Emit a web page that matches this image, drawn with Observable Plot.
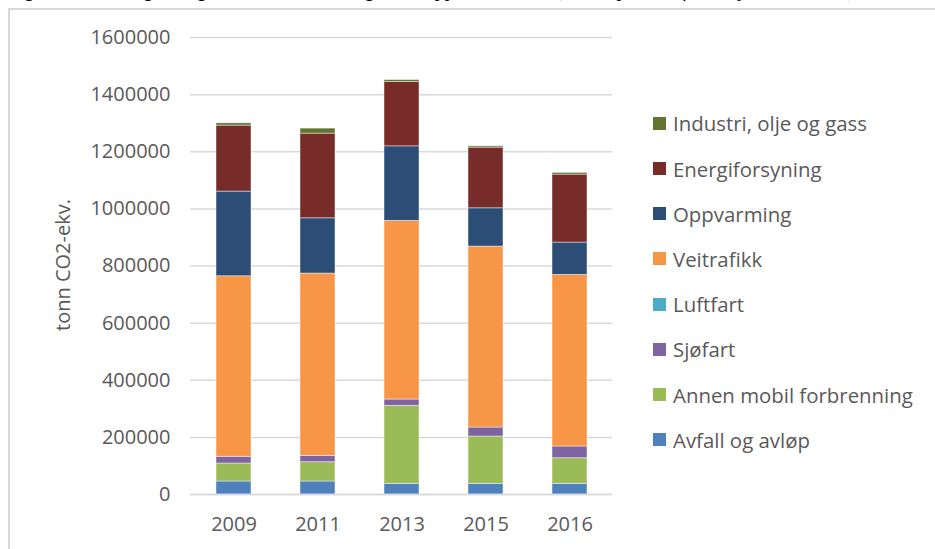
<!DOCTYPE html>
<html>
<head>
<meta charset="utf-8">
<script src="https://cdn.jsdelivr.net/npm/d3@7"></script>
<script src="https://cdn.jsdelivr.net/npm/@observablehq/plot@0.6"></script>
<style>
  html, body { margin: 0; padding: 0; background: #fff; }
  body { width: 935px; height: 549px; position: relative; overflow: hidden; font-family: "Open Sans", Lato, sans-serif; }
  #caption { position: absolute; left: 8px; top: -21px; font: italic 20px "Liberation Serif", serif; line-height: 20px; white-space: nowrap; color: #000; }
  #frame { position: absolute; left: 8px; top: 8px; width: 1000px; height: 600px; border-left: 2px solid #d9d9d9; border-top: 2px solid #d9d9d9; }
  #chart { position: absolute; left: 0; top: 0; }
  #ytitle { position: absolute; left: 62px; top: 265px; transform: translate(-50%, -50%) rotate(-90deg); font-size: 20px; color: #595959; white-space: nowrap; }
  #legend { position: absolute; left: 653px; top: 0; }
  .item { position: absolute; left: 0; display: flex; align-items: center; height: 28px; white-space: nowrap; font-size: 20.4px; color: #595959; }
  .sw { width: 13px; height: 13px; margin-right: 7px; flex: none; }
</style>
</head>
<body>
<div id="caption">Figur 4: Utvikling i Bergen kommunes klimagassutslipp 2009–2016 (basert på data fra Miljødirektoratet)</div>
<div id="frame"></div>
<div id="chart"></div>
<div id="ytitle">tonn CO2-ekv.</div>
<div id="legend"></div>
<script>
const years = ["2009", "2011", "2013", "2015", "2016"];
// stacking order, bottom to top
const sectors = ["Avfall og avløp", "Annen mobil forbrenning", "Sjøfart", "Luftfart", "Veitrafikk", "Oppvarming", "Energiforsyning", "Industri, olje og gass"];
const colors  = ["#4f81bd", "#9bbb59", "#8064a2", "#4bacc6", "#f79646", "#2c4d75", "#772c2a", "#5f7530"];

const avfall     = [45500, 45500, 37300, 37300, 37300];
const annenMobil = [63000, 67500, 273000, 165700, 89700];
const sjofart    = [23500, 22300, 22200, 31500, 41000];
const luftfart   = [0, 0, 0, 0, 0];
const veitrafikk = [632000, 638200, 625500, 633500, 601000];
const oppvarming = [296500, 193500, 261000, 134000, 113000];
const energi     = [231000, 296500, 225500, 212500, 238000];
const industri   = [8000, 17500, 6500, 4500, 6000];

const yTicks = [0, 200000, 400000, 600000, 800000, 1000000, 1200000, 1400000, 1600000];

const series = [avfall, annenMobil, sjofart, luftfart, veitrafikk, oppvarming, energi, industri];
const data = [];
years.forEach((yr, i) => {
  sectors.forEach((s, j) => data.push({year: yr, sector: s, value: series[j][i]}));
});

const grid = "#d9d9d9";
const txt = "#595959";

const chart = Plot.plot({
  width: 935,
  height: 549,
  marginLeft: 190,
  marginRight: 323,
  marginTop: 37,
  marginBottom: 55,
  style: { fontFamily: "'Open Sans', Lato, sans-serif", fontSize: "20px", color: txt, background: "transparent" },
  x: { domain: years, paddingInner: 0.585, paddingOuter: 0.2925, label: null },
  y: { domain: [0, 1600000], label: null },
  color: { domain: sectors, range: colors },
  marks: [
    Plot.gridY(yTicks, { stroke: grid, strokeOpacity: 1, strokeWidth: 1.5 }),
    Plot.barY(data, { x: "year", y: "value", fill: "sector", stroke: "#fff", strokeWidth: 0.8, strokeOpacity: 0.55 }),
    Plot.ruleY([0], { stroke: grid, strokeWidth: 1.5 }),
    Plot.axisY(yTicks, { tickSize: 0, tickPadding: 20, tickFormat: d => String(d), fill: txt, fontSize: 20, label: null }),
    Plot.axisX({ tickSize: 0, tickPadding: 22, fill: txt, fontSize: 20, label: null })
  ]
});
document.getElementById("chart").appendChild(chart);

// legend, top to bottom is the reverse of the stack
const legend = document.getElementById("legend");
const legendOrder = sectors.slice().reverse();
const legendColors = colors.slice().reverse();
legendOrder.forEach((s, k) => {
  const el = document.createElement("div");
  el.className = "item";
  el.style.top = (123.3 + k * 45.2 - 14) + "px";
  el.innerHTML = `<span class="sw" style="background:${legendColors[k]}"></span><span>${s}</span>`;
  legend.appendChild(el);
});
</script>
</body>
</html>
